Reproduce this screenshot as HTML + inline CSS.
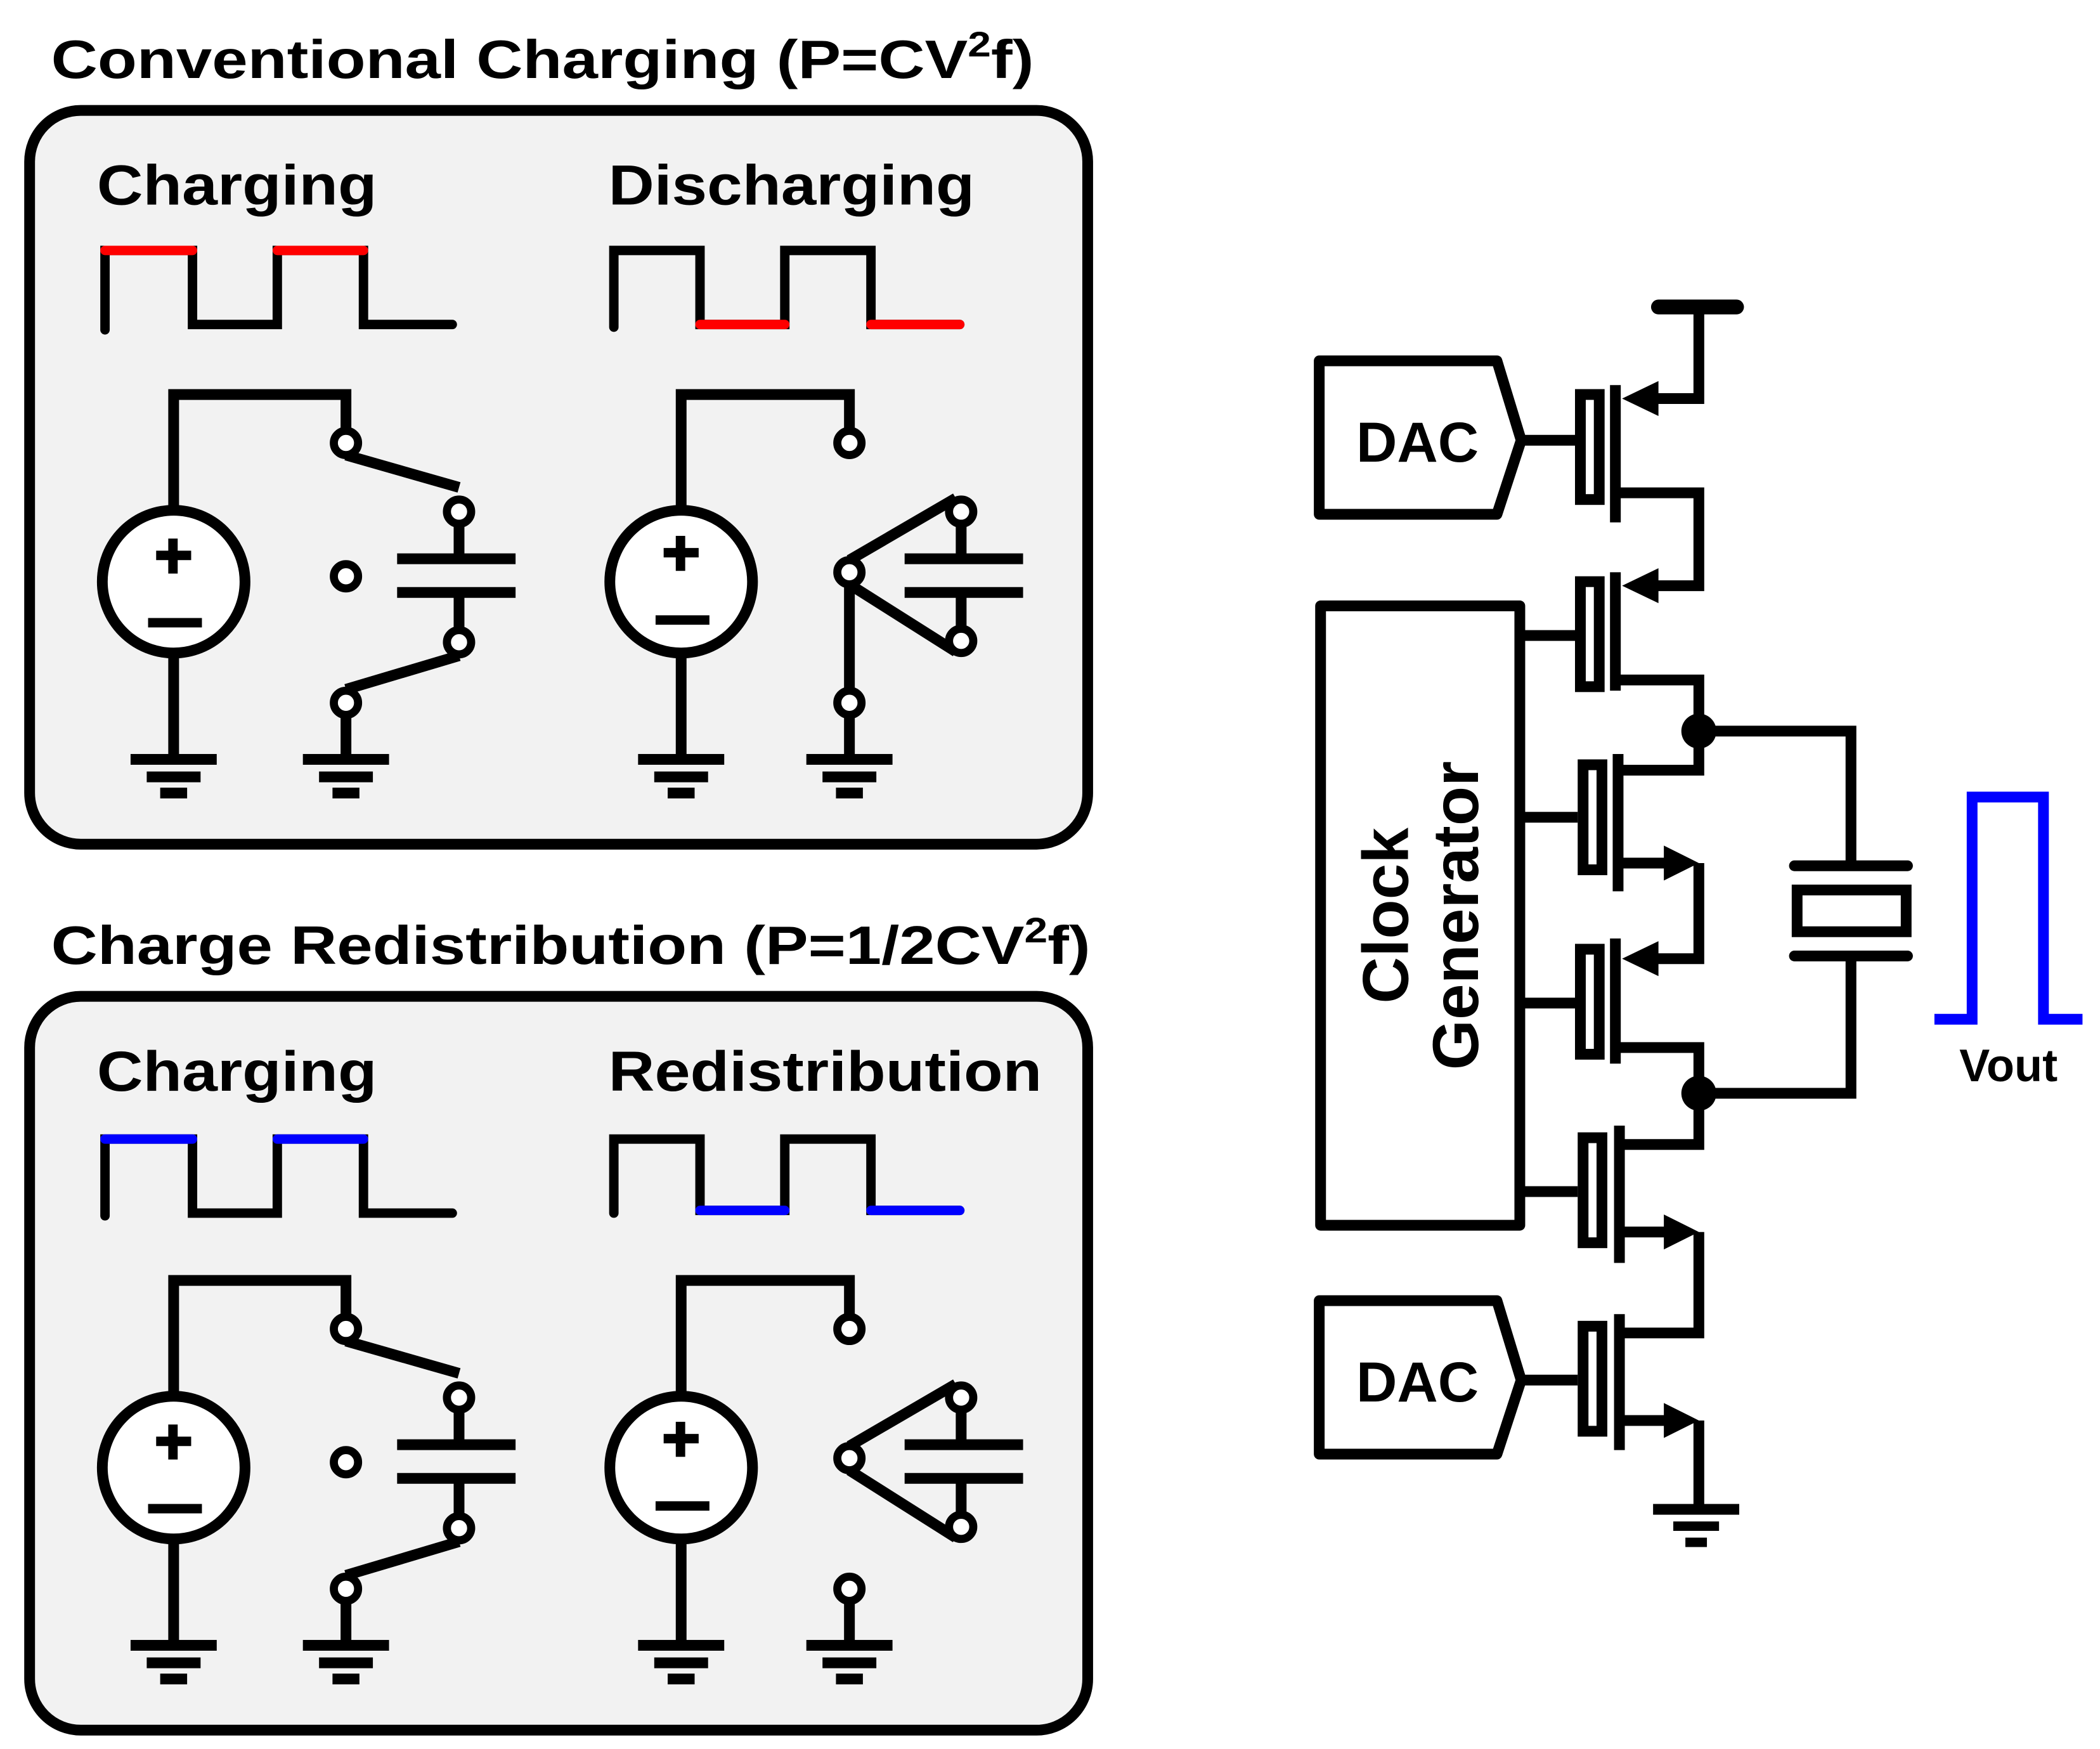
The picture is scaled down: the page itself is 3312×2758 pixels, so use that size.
<!DOCTYPE html>
<html><head><meta charset="utf-8"><style>html,body{margin:0;padding:0;background:#fff}svg{display:block}</style></head><body>
<svg xmlns="http://www.w3.org/2000/svg" width="3312" height="2758" viewBox="0 0 1560 1299" preserveAspectRatio="none" font-family="Liberation Sans, Arial, sans-serif" font-weight="bold">
<defs>
<g id="gnd"><rect x="-32" y="-4" width="64" height="8"/><rect x="-20" y="9" width="40" height="8"/><rect x="-10" y="21" width="20" height="8"/></g>
</defs>
<rect width="1560" height="1299" fill="#fff"/>
<!-- titles -->
<text x="38" y="58" font-size="40" textLength="730" lengthAdjust="spacingAndGlyphs">Conventional Charging (P=CV<tspan font-size="26" dy="-16">2</tspan><tspan dy="16">f)</tspan></text>
<text x="38" y="716" font-size="40" textLength="772" lengthAdjust="spacingAndGlyphs">Charge Redistribution (P=1/2CV<tspan font-size="26" dy="-16">2</tspan><tspan dy="16">f)</tspan></text>

<rect x="22" y="82" width="786" height="545" rx="38" fill="#f2f2f2" stroke="#000" stroke-width="8"/>
<rect x="22" y="740" width="786" height="545" rx="38" fill="#f2f2f2" stroke="#000" stroke-width="8"/>

<g font-size="42">
<text x="72" y="152" textLength="208" lengthAdjust="spacingAndGlyphs">Charging</text>
<text x="452" y="152" textLength="272" lengthAdjust="spacingAndGlyphs">Discharging</text>
<text x="72" y="810" textLength="208" lengthAdjust="spacingAndGlyphs">Charging</text>
<text x="452" y="810" textLength="322" lengthAdjust="spacingAndGlyphs">Redistribution</text>
</g>

<!-- waveforms -->
<g fill="none" stroke-width="7" stroke-linecap="round" stroke-linejoin="miter">
<path d="M78,245 V186 H143 V241 H206 V186 H270 V241 H336" stroke="#000"/>
<path d="M78,186 H143 M206,186 H270" stroke="#f00"/>
<path d="M456,243 V186 H520 V241 H583 V186 H647 V241 H713" stroke="#000"/>
<path d="M520,241 H583 M647,241 H713" stroke="#f00"/>
<path d="M78,903 V846 H143 V901 H206 V846 H270 V901 H336" stroke="#000"/>
<path d="M78,846 H143 M206,846 H270" stroke="#00f"/>
<path d="M456,901 V846 H520 V899 H583 V846 H647 V899 H713" stroke="#000"/>
<path d="M520,899 H583 M647,899 H713" stroke="#00f"/>
</g>

<!-- panel 1 circuits -->
<g stroke="#000" stroke-width="8" fill="none">
<!-- charging -->
<path d="M129,379 V293 H257 V320"/>
<path d="M129,485 V562"/>
<path d="M257,338 L341,362"/>
<path d="M341,389 V413 M341,442 V467"/>
<path d="M341,487 L257,512"/>
<path d="M257,531 V562"/>
<path d="M295,415 H383 M295,440 H383"/>
<circle cx="129" cy="432" r="53" fill="#fff"/>
<circle cx="257" cy="329" r="9" fill="#fff" stroke-width="6"/>
<circle cx="341" cy="380" r="9" fill="#fff" stroke-width="6"/>
<circle cx="257" cy="428" r="9" fill="#fff" stroke-width="6"/>
<circle cx="341" cy="477" r="9" fill="#fff" stroke-width="6"/>
<circle cx="257" cy="522" r="9" fill="#fff" stroke-width="6"/>
<!-- discharging -->
<path d="M506,379 V293 H631 V320"/>
<path d="M506,485 V562"/>
<path d="M631,416 L710,370 M631,434 L710,484"/>
<path d="M631,434 V513 M631,531 V562"/>
<path d="M714,389 V413 M714,442 V467"/>
<path d="M672,415 H760 M672,440 H760"/>
<circle cx="506" cy="432" r="53" fill="#fff"/>
<circle cx="631" cy="329" r="9" fill="#fff" stroke-width="6"/>
<circle cx="631" cy="425" r="9" fill="#fff" stroke-width="6"/>
<circle cx="714" cy="380" r="9" fill="#fff" stroke-width="6"/>
<circle cx="714" cy="476" r="9" fill="#fff" stroke-width="6"/>
<circle cx="631" cy="522" r="9" fill="#fff" stroke-width="6"/>
</g>
<g fill="#000">
<use href="#gnd" x="129" y="564"/><use href="#gnd" x="257" y="564"/>
<use href="#gnd" x="506" y="564"/><use href="#gnd" x="631" y="564"/>
<rect x="125" y="400" width="7" height="26"/><rect x="116" y="409" width="26" height="7"/><rect x="110" y="459" width="40" height="7"/>
<rect x="502" y="398" width="7" height="26"/><rect x="493" y="407" width="26" height="7"/><rect x="487" y="457" width="40" height="7"/>
</g>

<!-- panel 2 circuits -->
<g transform="translate(0,658)">
<g stroke="#000" stroke-width="8" fill="none">
<path d="M129,379 V293 H257 V320"/>
<path d="M129,485 V562"/>
<path d="M257,338 L341,362"/>
<path d="M341,389 V413 M341,442 V467"/>
<path d="M341,487 L257,512"/>
<path d="M257,531 V562"/>
<path d="M295,415 H383 M295,440 H383"/>
<circle cx="129" cy="432" r="53" fill="#fff"/>
<circle cx="257" cy="329" r="9" fill="#fff" stroke-width="6"/>
<circle cx="341" cy="380" r="9" fill="#fff" stroke-width="6"/>
<circle cx="257" cy="428" r="9" fill="#fff" stroke-width="6"/>
<circle cx="341" cy="477" r="9" fill="#fff" stroke-width="6"/>
<circle cx="257" cy="522" r="9" fill="#fff" stroke-width="6"/>
<path d="M506,379 V293 H631 V320"/>
<path d="M506,485 V562"/>
<path d="M631,416 L710,370 M631,434 L710,484"/>
<path d="M631,531 V562"/>
<path d="M714,389 V413 M714,442 V467"/>
<path d="M672,415 H760 M672,440 H760"/>
<circle cx="506" cy="432" r="53" fill="#fff"/>
<circle cx="631" cy="329" r="9" fill="#fff" stroke-width="6"/>
<circle cx="631" cy="425" r="9" fill="#fff" stroke-width="6"/>
<circle cx="714" cy="380" r="9" fill="#fff" stroke-width="6"/>
<circle cx="714" cy="476" r="9" fill="#fff" stroke-width="6"/>
<circle cx="631" cy="522" r="9" fill="#fff" stroke-width="6"/>
</g>
<g fill="#000">
<use href="#gnd" x="129" y="564"/><use href="#gnd" x="257" y="564"/>
<use href="#gnd" x="506" y="564"/><use href="#gnd" x="631" y="564"/>
<rect x="125" y="400" width="7" height="26"/><rect x="116" y="409" width="26" height="7"/><rect x="110" y="459" width="40" height="7"/>
<rect x="502" y="398" width="7" height="26"/><rect x="493" y="407" width="26" height="7"/><rect x="487" y="457" width="40" height="7"/>
</g>
</g>

<!-- right side -->
<g stroke="#000" stroke-width="8" fill="none" stroke-linejoin="round">
<path d="M980,268 H1112 L1130,327 L1112,382 H980 Z" fill="#fff"/>
<path d="M980,966 H1112 L1130,1025 L1112,1080 H980 Z" fill="#fff"/>
<rect x="981" y="450" width="148" height="460" fill="#fff"/>
</g>
<g font-size="42" text-anchor="middle">
<text x="1053" y="343">DAC</text>
<text x="1053" y="1041">DAC</text>
<text transform="translate(1046,680) rotate(-90)" text-anchor="middle" font-size="48">Clock</text>
<text transform="translate(1098,680) rotate(-90)" text-anchor="middle" font-size="48">Generator</text>
<text x="1492" y="803" font-size="34">Vout</text>
</g>

<g stroke="#000" stroke-width="8" fill="none">
<!-- VDD -->
<path d="M1232,228 H1290" stroke-width="11" stroke-linecap="round"/>
<path d="M1262,228 V296 H1230"/>
<!-- gates -->
<path d="M1130,327 H1172 M1129,472 H1172 M1129,607 H1172 M1129,745 H1172 M1129,885 H1172 M1130,1025 H1172"/>
<!-- gate plates -->
<rect x="1174" y="293" width="14" height="78" fill="#fff"/>
<rect x="1174" y="432" width="14" height="78" fill="#fff"/>
<rect x="1176" y="568" width="14" height="78" fill="#fff"/>
<rect x="1174" y="705" width="14" height="78" fill="#fff"/>
<rect x="1176" y="845" width="14" height="78" fill="#fff"/>
<rect x="1176" y="985" width="14" height="78" fill="#fff"/>
<!-- channels -->
<path d="M1200,286 V388 M1200,425 V513 M1202,560 V662 M1200,697 V790 M1203,836 V938 M1203,976 V1077"/>
<!-- M1 drain to M2 source -->
<path d="M1200,366 H1262 V435 H1230"/>
<!-- M2 drain to node -->
<path d="M1200,505 H1262 V572 H1202"/>
<!-- M3 source to M4 source -->
<path d="M1202,641 H1240 M1262,641 V712 H1230"/>
<!-- M4 drain -->
<path d="M1200,778 H1262 V850 H1203"/>
<!-- M5 source to M6 drain -->
<path d="M1203,915 H1240 M1262,915 V990 H1203"/>
<!-- M6 source to gnd -->
<path d="M1203,1055 H1240 M1262,1055 V1120"/>
<!-- crystal -->
<path d="M1262,543 H1375 V643 M1375,710 V812 H1262"/>
<path d="M1333,643 H1417 M1333,710 H1417" stroke-linecap="round"/>
<rect x="1335" y="661" width="81" height="31" fill="#fff"/>
</g>
<g fill="#000">
<!-- PMOS arrows (pointing into channel) -->
<polygon points="1205,296 1232,283 1232,309"/>
<polygon points="1205,435 1232,422 1232,448"/>
<polygon points="1205,712 1232,699 1232,725"/>
<!-- NMOS arrows (pointing out) -->
<polygon points="1262,641 1236,628 1236,654"/>
<polygon points="1262,915 1236,902 1236,928"/>
<polygon points="1262,1055 1236,1042 1236,1068"/>
<circle cx="1262" cy="543" r="13"/>
<circle cx="1262" cy="812" r="13"/>
<rect x="1228" y="1117" width="64" height="8"/><rect x="1243" y="1130" width="34" height="7"/><rect x="1252" y="1142" width="16" height="7"/>
</g>
<path d="M1437,757 H1465 V592 H1518 V757 H1547" fill="none" stroke="#00f" stroke-width="8"/>
</svg>
</body></html>
